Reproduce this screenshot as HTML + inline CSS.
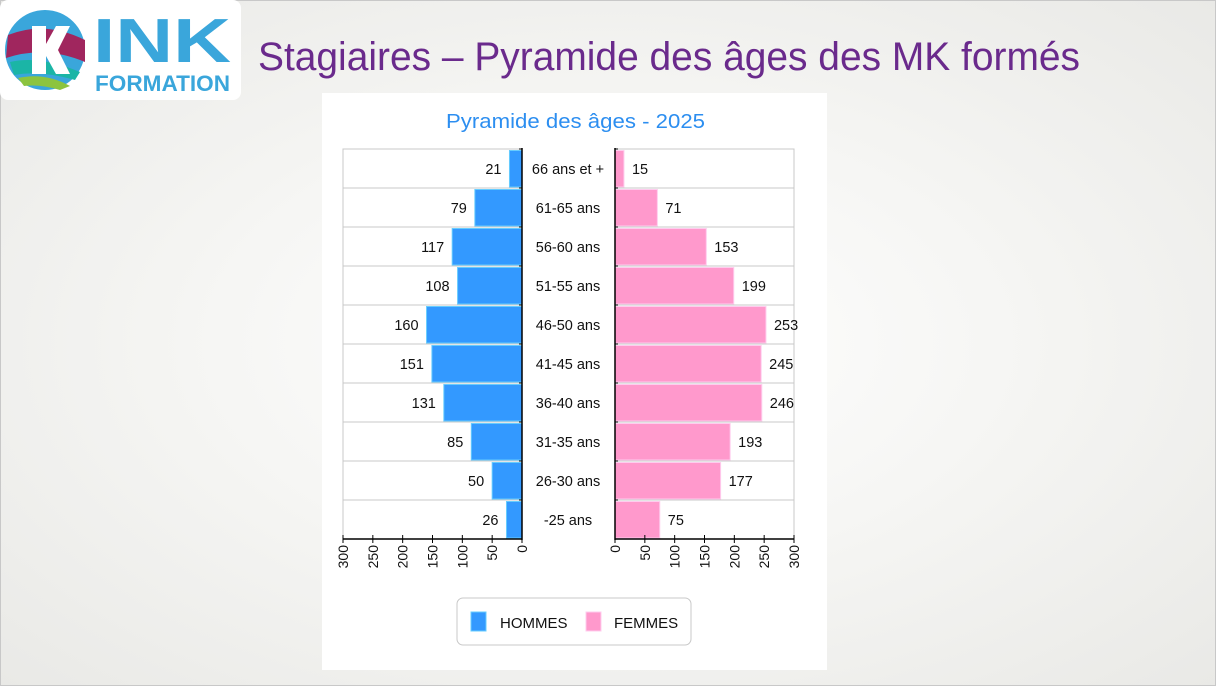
<!DOCTYPE html>
<html><head><meta charset="utf-8"><style>
html,body{margin:0;padding:0;width:1216px;height:686px;overflow:hidden}
body{background:radial-gradient(ellipse at 50% 50%,#ffffff 0%,#f6f6f4 45%,#e9e9e6 100%)}
svg{position:absolute;left:0;top:0}
text{font-family:"Liberation Sans",sans-serif}
</style></head><body>
<svg id="s" width="1216" height="686" viewBox="0 0 1216 686" xmlns="http://www.w3.org/2000/svg">
<rect x="0.5" y="0.5" width="1215" height="685" fill="none" stroke="#c8c8c8"/>
<!-- logo -->
<rect x="0" y="0" width="241" height="100" rx="8" fill="#fff"/>
<circle cx="45" cy="50" r="40" fill="#3aa6db"/>
<path d="M8 35 Q45 20 85 40 L85 62 Q45 45 6 58 Z" fill="#a0265e"/>
<path d="M10 62 Q40 55 80 72 L75 80 Q40 70 14 75 Z" fill="#1bb5a6"/>
<path d="M18 78 Q45 72 70 86 L60 90 Q40 84 24 86 Z" fill="#8cc43f"/>
<path d="M32 26 L46 26 L46 44 L56 26 L70 26 L58 50 L70 74 L56 74 L46 56 L46 74 L32 74 Z" fill="#fff"/>
<text x="93" y="62" font-size="62" font-weight="bold" fill="#3aa6db" textLength="138" lengthAdjust="spacingAndGlyphs">INK</text>
<text x="95" y="91" font-size="22" font-weight="bold" fill="#3aa6db" textLength="135" lengthAdjust="spacingAndGlyphs">FORMATION</text>
<text x="258" y="70" font-size="40" fill="#6a2a8c" textLength="822" lengthAdjust="spacingAndGlyphs">Stagiaires – Pyramide des âges des MK formés</text>
<rect x="322" y="93" width="505" height="577" fill="#fff"/>
<text x="446" y="128" font-size="20" fill="#2c8ef0" textLength="259" lengthAdjust="spacingAndGlyphs">Pyramide des âges - 2025</text>
<g id="c"></g>
<rect x="457" y="598" width="234" height="47" rx="6" fill="#fff" stroke="#c8c8c8"/>
<rect x="471" y="612" width="15" height="19" fill="#3399ff" stroke="#66ccff"/>
<text x="500" y="628" font-size="15" fill="#111">HOMMES</text>
<rect x="586" y="612" width="15" height="19" fill="#ff99cc" stroke="#ffccee"/>
<text x="614" y="628" font-size="15" fill="#111">FEMMES</text>
</svg>
<script>
var lab=["66 ans et +","61-65 ans","56-60 ans","51-55 ans","46-50 ans","41-45 ans","36-40 ans","31-35 ans","26-30 ans","-25 ans"];
var h=[21,79,117,108,160,151,131,85,50,26],f=[15,71,153,199,253,245,246,193,177,75];
var k=179/300,o="";
o+='<rect x="343" y="149" width="179" height="390" fill="none" stroke="#c8c8c8"/>';
o+='<rect x="615" y="149" width="179" height="390" fill="none" stroke="#c8c8c8"/>';
for(var i=0;i<10;i++){var y=149+39*i;
o+='<line x1="343" x2="522" y1="'+y+'" y2="'+y+'" stroke="#c8c8c8"/><line x1="615" x2="794" y1="'+y+'" y2="'+y+'" stroke="#c8c8c8"/>';
var w=h[i]*k;o+='<rect x="'+(522-w)+'" y="'+(y+1.5)+'" width="'+w+'" height="36.5" fill="#3399ff" stroke="#66ccff" stroke-width="1"/>';
o+='<text x="'+(522-w-8)+'" y="'+(y+25)+'" font-size="14.5" text-anchor="end" fill="#111">'+h[i]+'</text>';
var v=f[i]*k;o+='<rect x="615" y="'+(y+1.5)+'" width="'+v+'" height="36.5" fill="#ff99cc" stroke="#ffccee" stroke-width="1"/>';
o+='<text x="'+(615+v+8)+'" y="'+(y+25)+'" font-size="14.5" fill="#111">'+f[i]+'</text>';
o+='<text x="568" y="'+(y+25)+'" font-size="14.5" text-anchor="middle" fill="#111">'+lab[i]+'</text>';
o+='<line x1="519" x2="522" y1="'+y+'" y2="'+y+'" stroke="#000"/><line x1="615" x2="618" y1="'+y+'" y2="'+y+'" stroke="#000"/>';}
o+='<line x1="522" x2="522" y1="148" y2="540" stroke="#000" stroke-width="1.5"/><line x1="615" x2="615" y1="148" y2="540" stroke="#000" stroke-width="1.5"/>';
o+='<line x1="343" x2="522" y1="539" y2="539" stroke="#000" stroke-width="1.5"/><line x1="615" x2="794" y1="539" y2="539" stroke="#000" stroke-width="1.5"/>';
for(var t=0;t<=300;t+=50){var xl=522-t*k,xr=615+t*k;
o+='<line x1="'+xl+'" x2="'+xl+'" y1="535" y2="543" stroke="#000"/><line x1="'+xr+'" x2="'+xr+'" y1="535" y2="543" stroke="#000"/>';
o+='<text transform="translate('+(xl+5)+',545) rotate(-90)" font-size="14" text-anchor="end" fill="#111">'+t+'</text>';
o+='<text transform="translate('+(xr+5)+',545) rotate(-90)" font-size="14" text-anchor="end" fill="#111">'+t+'</text>';}
document.getElementById("c").innerHTML=o;
</script>
</body></html>
